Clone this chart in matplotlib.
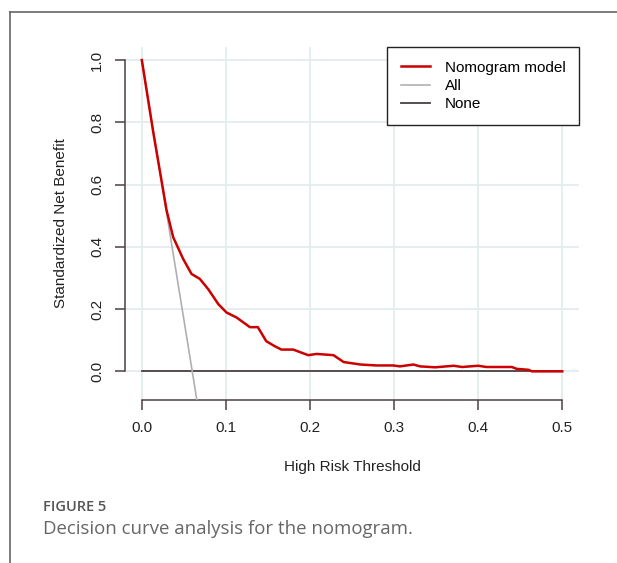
import matplotlib.pyplot as plt
from matplotlib.lines import Line2D

plt.rcParams['font.family'] = ['Liberation Sans', 'DejaVu Sans']

# decision curve values
thresholds = [0.0, 0.0135, 0.0294, 0.0373, 0.0492, 0.0591, 0.069, 0.079, 0.091,
              0.1008, 0.1127, 0.1286, 0.138, 0.148, 0.158, 0.166, 0.180, 0.198,
              0.208, 0.218, 0.228, 0.240, 0.260, 0.279, 0.299, 0.307, 0.323,
              0.331, 0.349, 0.371, 0.381, 0.400, 0.410, 0.440, 0.446, 0.460,
              0.464, 0.5]
nomogram = [1.0, 0.77, 0.518, 0.431, 0.361, 0.313, 0.297, 0.264, 0.216,
            0.189, 0.173, 0.142, 0.142, 0.097, 0.081, 0.070, 0.070, 0.052,
            0.056, 0.054, 0.052, 0.030, 0.022, 0.019, 0.019, 0.016, 0.022,
            0.016, 0.013, 0.018, 0.014, 0.018, 0.014, 0.014, 0.008, 0.005,
            0.0, 0.0]
all_x = [0.0, 0.03, 0.06, 0.07]
all_y = [1.0, 0.50, 0.0, -0.17]
none_x = [0.0, 0.5]
none_y = [0.0, 0.0]

xticks = [0.0, 0.1, 0.2, 0.3, 0.4, 0.5]
yticks = [0.0, 0.2, 0.4, 0.6, 0.8, 1.0]

fig = plt.figure(figsize=(6.17, 5.63), dpi=100)
ax = fig.add_axes([125 / 617, 1 - 400 / 563, 454 / 617, 353 / 563])

for t in xticks:
    ax.axvline(t, color='#e3ecee', lw=1.3, zorder=0)
for t in yticks:
    ax.axhline(t, color='#e3ecee', lw=1.3, zorder=0)

ax.plot(none_x, none_y, color='#4a4043', lw=1.3, label='None', zorder=2)
ax.plot(all_x, all_y, color='#b0b0b4', lw=1.2, label='All', zorder=3)
ax.plot(thresholds, nomogram, color='#cc0000', lw=1.8, label='Nomogram model', zorder=4)

ax.set_xlim(-0.02, 0.52)
ax.set_ylim(-0.092, 1.042)
ax.set_xticks(xticks)
ax.set_xticklabels(['0.0', '0.1', '0.2', '0.3', '0.4', '0.5'])
ax.set_yticks(yticks)
ax.set_yticklabels(['0.0', '0.2', '0.4', '0.6', '0.8', '1.0'], rotation=90, va='center')

for s in ['top', 'right']:
    ax.spines[s].set_visible(False)
ax.spines['left'].set_bounds(0, 1)
ax.spines['bottom'].set_bounds(0, 0.5)
for s in ['left', 'bottom']:
    ax.spines[s].set_color('#4a4043')
    ax.spines[s].set_linewidth(1.1)
ax.tick_params(direction='out', length=7, width=1.1, color='#4a4043',
               labelsize=11, labelcolor='#222222', pad=8)

ax.set_xlabel('High Risk Threshold', fontsize=11, color='#222222', labelpad=18)
ax.set_ylabel('Standardized Net Benefit', fontsize=11, color='#222222', labelpad=16)

h, l = ax.get_legend_handles_labels()
leg = ax.legend(h[::-1], l[::-1], loc='upper right', fontsize=11, fancybox=False,
                edgecolor='#222222', framealpha=1, handlelength=1.9,
                handletextpad=0.95, labelspacing=0.28, borderpad=0.9,
                borderaxespad=0)
leg.get_frame().set_linewidth(1.0)

# page frame and caption
fig.add_artist(Line2D([10 / 617, 1], [1 - 12 / 563, 1 - 12 / 563],
                      transform=fig.transFigure, color='#666666', lw=1.2))
fig.add_artist(Line2D([10 / 617, 10 / 617], [0, 1 - 12 / 563],
                      transform=fig.transFigure, color='#666666', lw=1.2))
fig.text(43 / 617, 1 - 507 / 563, 'FIGURE 5', fontsize=10.5, color='#555555',
         family=['Open Sans', 'DejaVu Sans'], fontweight='semibold', va='center')
fig.text(43 / 617, 1 - 529 / 563, 'Decision curve analysis for the nomogram.',
         fontsize=13.4, color='#666666', family=['Open Sans', 'DejaVu Sans'], va='center')

fig.savefig('out.png', dpi=100)
